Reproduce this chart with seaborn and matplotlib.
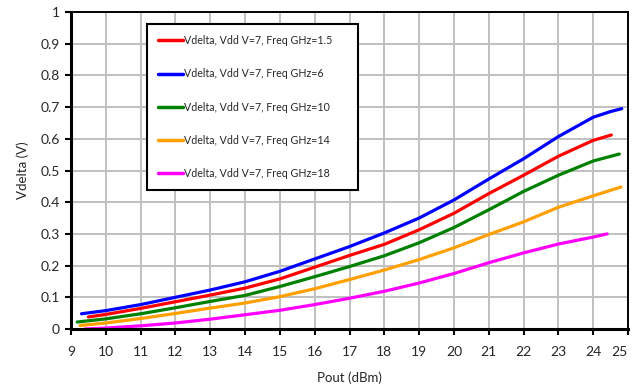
import numpy as np
import pandas as pd
import matplotlib
matplotlib.use("Agg")
import matplotlib.pyplot as plt
import seaborn as sns

# Measured Vdelta vs output power, Vdd = 7 V, one trace per frequency
x_f1p5 = [9.5, 10, 11, 12, 13, 14, 15, 16, 17, 18, 19, 20, 21, 22, 23, 24, 24.52]
y_f1p5 = [0.038, 0.046, 0.065, 0.086, 0.107, 0.129, 0.158, 0.195, 0.232, 0.267,
          0.313, 0.365, 0.427, 0.485, 0.545, 0.595, 0.612]

x_f6 = [9.3, 10, 11, 12, 13, 14, 15, 16, 17, 18, 19, 20, 21, 22, 23, 24, 24.5, 24.82]
y_f6 = [0.048, 0.058, 0.077, 0.100, 0.123, 0.149, 0.182, 0.221, 0.260, 0.303,
        0.350, 0.407, 0.473, 0.537, 0.607, 0.668, 0.686, 0.695]

x_f10 = [9.18, 10, 11, 12, 13, 14, 15, 16, 17, 18, 19, 20, 21, 22, 23, 24, 24.75]
y_f10 = [0.022, 0.032, 0.048, 0.067, 0.087, 0.106, 0.134, 0.165, 0.197, 0.231,
         0.272, 0.320, 0.376, 0.434, 0.485, 0.530, 0.552]

x_f14 = [9.26, 10, 11, 12, 13, 14, 15, 16, 17, 18, 19, 20, 21, 22, 23, 24, 24.8]
y_f14 = [0.011, 0.019, 0.033, 0.049, 0.066, 0.082, 0.102, 0.127, 0.156, 0.186,
         0.219, 0.256, 0.298, 0.338, 0.384, 0.420, 0.448]

x_f18 = [9.4, 10, 11, 12, 13, 14, 15, 16, 17, 18, 19, 20, 21, 22, 23, 24, 24.4]
y_f18 = [0.0, 0.003, 0.010, 0.019, 0.031, 0.045, 0.059, 0.077, 0.097, 0.119,
         0.145, 0.175, 0.209, 0.240, 0.268, 0.290, 0.300]

series_labels = [
    "Vdelta, Vdd V=7, Freq GHz=1.5",
    "Vdelta, Vdd V=7, Freq GHz=6",
    "Vdelta, Vdd V=7, Freq GHz=10",
    "Vdelta, Vdd V=7, Freq GHz=14",
    "Vdelta, Vdd V=7, Freq GHz=18",
]
series_x = [x_f1p5, x_f6, x_f10, x_f14, x_f18]
series_y = [y_f1p5, y_f6, y_f10, y_f14, y_f18]
colors = ["#ff0000", "#0000ff", "#008000", "#ffa000", "#ff00ff"]

x_ticks = list(range(9, 26))
y_ticks = [0, 0.1, 0.2, 0.3, 0.4, 0.5, 0.6, 0.7, 0.8, 0.9, 1]
y_tick_labels = ["0", "0.1", "0.2", "0.3", "0.4", "0.5", "0.6", "0.7", "0.8", "0.9", "1"]

frames = []
for lab, xs, ys in zip(series_labels, series_x, series_y):
    frames.append(pd.DataFrame({"Pout": xs, "Vdelta": ys, "series": lab}))
df = pd.concat(frames, ignore_index=True)

sns.set_style("white")
plt.rcParams["font.family"] = ["Lato", "DejaVu Sans"]

fig = plt.figure(figsize=(6.34, 3.89), dpi=100)
ax = fig.add_axes([71 / 634, 1 - 329 / 389, 557 / 634, 317 / 389])

sns.lineplot(data=df, x="Pout", y="Vdelta", hue="series", hue_order=series_labels,
             palette=colors, sort=False, estimator=None, linewidth=2.3, ax=ax)
for line in ax.get_lines():
    line.set_solid_joinstyle("round")

ax.set_xlim(9, 25)
ax.set_ylim(0, 1)
ax.set_xticks(x_ticks)
ax.set_xticklabels([str(t) for t in x_ticks])
ax.set_yticks(y_ticks)
ax.set_yticklabels(y_tick_labels)
ax.get_xticklabels()[-1].set_horizontalalignment("right")
ax.grid(True, color="#c0c0c0", linewidth=1.4)
ax.set_axisbelow(True)

for side in ["left", "bottom"]:
    ax.spines[side].set_linewidth(2.2)
    ax.spines[side].set_color("black")
for side in ["top", "right"]:
    ax.spines[side].set_linewidth(1.4)
    ax.spines[side].set_color("black")

ax.tick_params(axis="both", which="major", direction="out", length=4, width=1.5,
               color="black", labelsize=10, pad=4, bottom=True, left=True)
ax.tick_params(axis="x", pad=8)

ax.set_xlabel("Pout (dBm)", fontsize=9.5, labelpad=10)
ax.set_ylabel("Vdelta (V)", fontsize=9.5, labelpad=8)

leg = ax.legend(loc="upper left",
                bbox_to_anchor=(76 / 557, 138 / 317, 211 / 557, 167 / 317),
                mode="expand", borderaxespad=0, fontsize=7.7, frameon=True,
                fancybox=False, edgecolor="black", framealpha=1,
                labelspacing=2.07, handlelength=2.3, handletextpad=0.12,
                borderpad=1.05)
leg.get_frame().set_linewidth(1.5)
for line in leg.get_lines():
    line.set_linewidth(2.5)

fig.savefig("out.png", dpi=100)
